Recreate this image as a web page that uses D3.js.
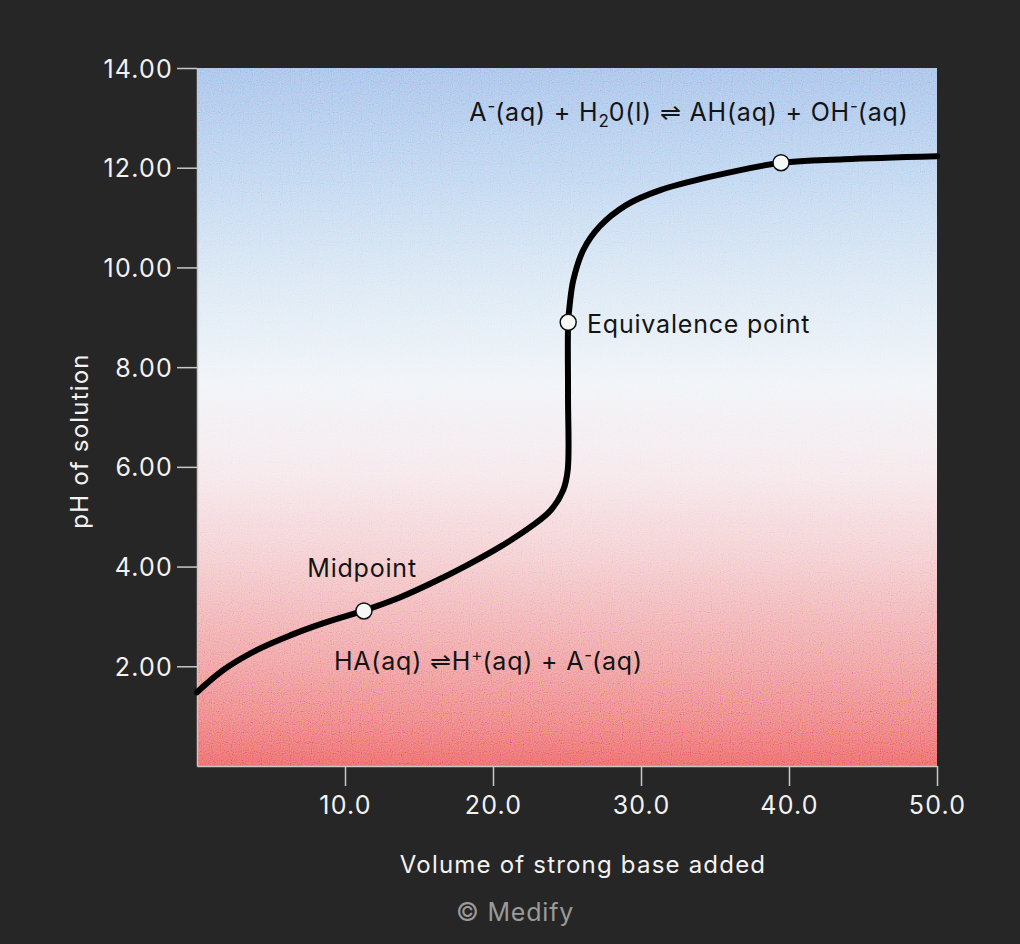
<!DOCTYPE html>
<html>
<head>
<meta charset="utf-8">
<script src="https://cdn.jsdelivr.net/npm/d3@7"></script>
<style>
  html, body { margin: 0; padding: 0; background: #262626; }
  svg { display: block; font-family: Inter, "Liberation Sans", sans-serif; letter-spacing: 0.8px; }
</style>
</head>
<body>
<div id="chart"></div>
<script>
// titration curve
var volume = [0, 1.8, 4.0, 6.3, 8.5, 11.3, 13.7, 16.0, 18.2, 20.5, 22.7, 23.9, 24.75, 25.05, 25.07, 25.08, 25.2, 25.43, 26.1, 27.2, 29.0, 31.3, 34.7, 39.5, 43.7, 50];
var pH = [1.48, 1.93, 2.32, 2.62, 2.86, 3.12, 3.38, 3.69, 4.02, 4.40, 4.83, 5.13, 5.54, 5.94, 7.4, 8.9, 9.3, 9.75, 10.35, 10.82, 11.25, 11.55, 11.82, 12.10, 12.17, 12.23];

// marked points: midpoint, equivalence point, excess base
var markerVolume = [11.28, 25.08, 39.46];
var markerPH = [3.11, 8.9, 12.10];

var xTicks = [10, 20, 30, 40, 50];
var yTicks = [2, 4, 6, 8, 10, 12, 14];

const margin = { top: 68, right: 83, bottom: 178, left: 197 };
const width = 1020 - margin.left - margin.right;
const height = 944 - margin.top - margin.bottom;

const svg = d3.select("#chart")
  .append("svg")
  .attr("width", 1020)
  .attr("height", 944);

const defs = svg.append("defs");

// blue -> white -> red background
const grad = defs.append("linearGradient")
  .attr("id", "bg")
  .attr("x1", 0).attr("y1", 0).attr("x2", 0).attr("y2", 1);
[
  [0, "#a5c1ea"], [0.15, "#bcd4f0"], [0.3, "#d9e7f4"], [0.45, "#f0f4f8"],
  [0.58, "#f6e8ec"], [0.7, "#f4cdd0"], [0.85, "#f09fa1"], [1, "#ed6869"]
].forEach(function (s) {
  grad.append("stop").attr("offset", s[0]).attr("stop-color", s[1]);
});

// grainy texture
const noise = defs.append("filter").attr("id", "grain")
  .attr("x", 0).attr("y", 0).attr("width", "100%").attr("height", "100%");
noise.append("feTurbulence")
  .attr("type", "fractalNoise")
  .attr("baseFrequency", 0.9)
  .attr("numOctaves", 1)
  .attr("seed", 3);
noise.append("feColorMatrix")
  .attr("type", "matrix")
  .attr("values", "2 0 0 0 -0.5  0 2 0 0 -0.5  0 0 2 0 -0.5  0 0 0 0 1");

const g = svg.append("g")
  .attr("transform", `translate(${margin.left},${margin.top})`);

const bgGroup = g.append("g").style("isolation", "isolate");
bgGroup.append("rect")
  .attr("width", width).attr("height", height)
  .attr("fill", "url(#bg)");
bgGroup.append("rect")
  .attr("width", width).attr("height", height)
  .attr("filter", "url(#grain)")
  .style("mix-blend-mode", "overlay")
  .attr("opacity", 0.3);

const x = d3.scaleLinear().domain([0, 50]).range([0, width]);
const y = d3.scaleLinear().domain([0, 14]).range([height, 0]);

// axes
const xAxis = g.append("g")
  .attr("transform", `translate(0,${height})`)
  .call(d3.axisBottom(x).tickValues(xTicks).tickFormat(d3.format(".1f"))
    .tickSizeInner(20).tickSizeOuter(0).tickPadding(10));
const yAxis = g.append("g")
  .call(d3.axisLeft(y).tickValues(yTicks).tickFormat(d3.format(".2f"))
    .tickSizeInner(20).tickSizeOuter(0).tickPadding(4));

[xAxis, yAxis].forEach(function (a) {
  a.select(".domain").attr("stroke", "#c8c8c8").attr("stroke-width", 1.5);
  a.selectAll(".tick line").attr("stroke", "#c8c8c8").attr("stroke-width", 1.5);
  a.selectAll(".tick text")
    .attr("fill", "#f2f2f2")
    .style("font-size", "25px")
    .style("letter-spacing", "1.2px")
    .style("font-family", "Inter, 'Liberation Sans', sans-serif");
});
yAxis.selectAll(".tick text").attr("dy", "0.36em");

// curve
const line = d3.line()
  .x(function (d, i) { return x(volume[i]); })
  .y(function (d, i) { return y(pH[i]); })
  .curve(d3.curveCatmullRom.alpha(0.5));

g.append("path")
  .attr("d", line(volume))
  .attr("fill", "none")
  .attr("stroke", "#000")
  .attr("stroke-width", 6)
  .attr("stroke-linecap", "round")
  .attr("stroke-linejoin", "round");

g.selectAll(".marker")
  .data(markerVolume)
  .enter()
  .append("circle")
  .attr("class", "marker")
  .attr("cx", function (d) { return x(d); })
  .attr("cy", function (d, i) { return y(markerPH[i]); })
  .attr("r", 8)
  .attr("fill", "#f6f8f8")
  .attr("stroke", "#111")
  .attr("stroke-width", 1.5);

// annotations
const annot = g.append("g")
  .attr("fill", "#141414")
  .style("font-size", "25px");

// pieces: [text, shift] where shift is "sup", "sub" or ""
function richText(px, py, pieces) {
  const t = annot.append("text").attr("x", px).attr("y", py);
  let offset = 0;
  pieces.forEach(function (p) {
    const want = p[1] === "sup" ? -9 : p[1] === "sub" ? 6 : 0;
    const span = t.append("tspan").attr("dy", want - offset).text(p[0]);
    if (p[1]) span.style("font-size", "17px").style("letter-spacing", "0px");
    offset = want;
  });
  return t;
}

richText(x(18.4), y(13.11) + 9, [
  ["A", ""], ["-", "sup"], ["(aq) + H", ""], ["2", "sub"],
  ["0(l) \u21CC AH(aq) + OH", ""], ["-", "sup"], ["(aq)", ""]
]);

richText(x(9.25), y(2.11) + 9, [
  ["HA(aq) \u21CCH", ""], ["+", "sup"], ["(aq) + A", ""], ["-", "sup"], ["(aq)", ""]
]);

annot.append("text")
  .attr("x", x(7.45)).attr("y", y(3.97) + 9)
  .text("Midpoint");

annot.append("text")
  .attr("x", x(26.35)).attr("y", y(8.86) + 9)
  .text("Equivalence point");

// axis titles
svg.append("text")
  .attr("transform", "translate(88,441) rotate(-90)")
  .attr("text-anchor", "middle")
  .attr("fill", "#f2f2f2")
  .style("font-size", "24px")
  .style("letter-spacing", "1.2px")
  .text("pH of solution");

svg.append("text")
  .attr("x", 583).attr("y", 873)
  .attr("text-anchor", "middle")
  .attr("fill", "#f2f2f2")
  .style("font-size", "24px")
  .style("letter-spacing", "1.2px")
  .text("Volume of strong base added");

svg.append("text")
  .attr("x", 515).attr("y", 921)
  .attr("text-anchor", "middle")
  .attr("fill", "#9a9a9a")
  .style("font-size", "25px")
  .text("\u00A9 Medify");
</script>
</body>
</html>
